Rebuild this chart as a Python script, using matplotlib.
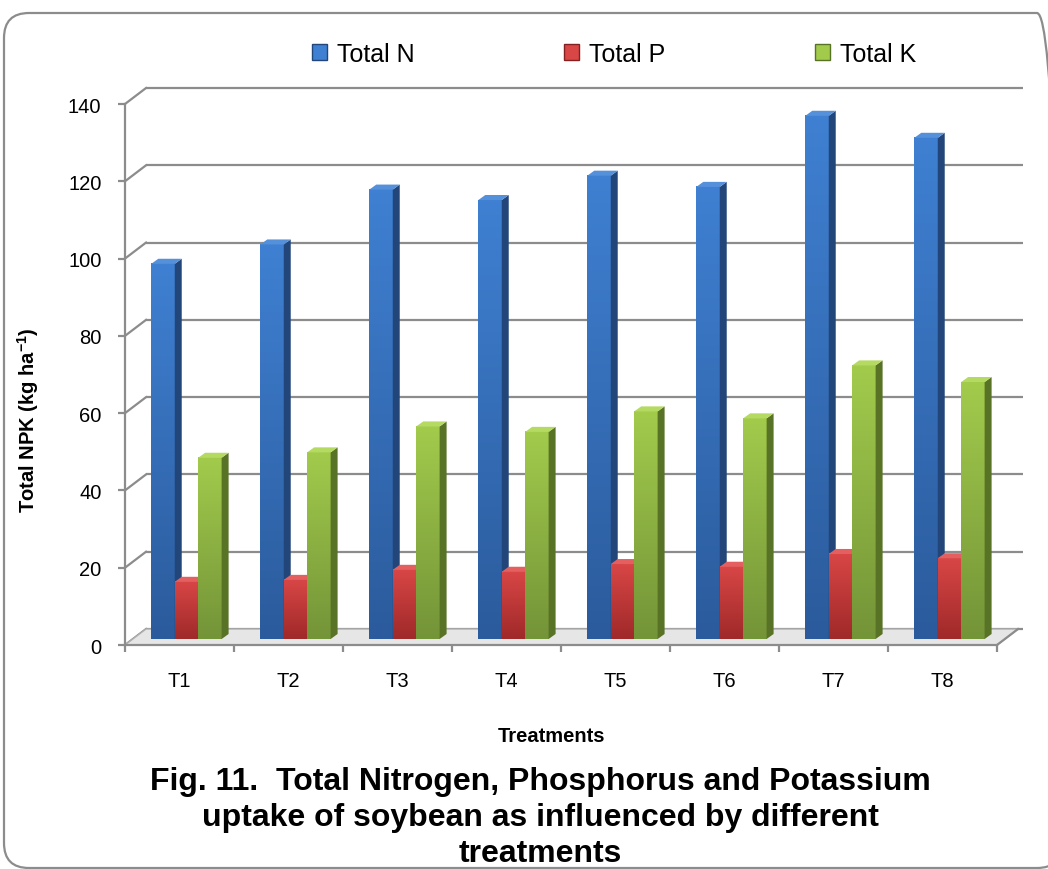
# Gráfico de barras "3D" (estilo Excel) - absorção total de NPK na soja
import numpy as np
import matplotlib
matplotlib.use('Agg')
import matplotlib.pyplot as plt
from matplotlib.patches import Polygon, FancyBboxPatch, Patch
from matplotlib.colors import to_rgb

plt.rcParams['font.family'] = ['Liberation Sans', 'DejaVu Sans']
plt.rcParams['mathtext.fontset'] = 'custom'
plt.rcParams['mathtext.rm'] = 'Liberation Sans'
plt.rcParams['mathtext.bf'] = 'Liberation Sans:bold'

# Dados
tratamentos = ['T1', 'T2', 'T3', 'T4', 'T5', 'T6', 'T7', 'T8']
total_n = [97.1, 102.1, 116.3, 113.6, 119.9, 117.0, 135.4, 129.7]
total_p = [14.8, 15.3, 17.9, 17.4, 19.4, 18.7, 22.0, 20.9]
total_k = [46.9, 48.3, 55.0, 53.6, 58.9, 57.1, 70.8, 66.5]
series = ['Total N', 'Total P', 'Total K']
yticks = [0, 20, 40, 60, 80, 100, 120, 140]

# cores: frente (topo), frente (base), lateral, tampa
cores = [
    ('#3F80D2', '#2B5B9C', '#22467A', '#5590DA'),
    ('#D84646', '#A02929', '#842020', '#E46060'),
    ('#A2CB4C', '#749438', '#587226', '#B5DA62'),
]
cinza = '#8C8C8C'

# parâmetros da perspectiva (em unidades dos eixos)
w = 0.215            # largura de cada barra
fx, fy = 0.064, 1.55  # deslocamento da face frontal das barras
sx, sy = 0.064, 1.3   # profundidade das barras
bx, by = 0.193, 4.14  # deslocamento da parede do fundo

fig = plt.figure(figsize=(10.48, 8.7), dpi=100)
ax = fig.add_axes([0.11927, 0.25747, 0.83206, 0.62184])

n = len(tratamentos)

# parede do fundo: linhas de grade e ligações diagonais
for v in yticks:
    ax.plot([bx, n + bx + 0.05], [v + by, v + by], color=cinza, lw=1.6,
            clip_on=False, zorder=1, solid_capstyle='butt')
    ax.plot([0, bx], [v, v + by], color=cinza, lw=1.6, clip_on=False, zorder=1)

# piso
piso = Polygon([(0, 0), (n, 0), (n + bx, by), (bx, by)], closed=True,
               facecolor='#E6E6E6', edgecolor='#B0B0B0', lw=1, zorder=2,
               clip_on=False)
ax.add_patch(piso)
ax.plot([n, n + bx], [0, by], color=cinza, lw=1.6, clip_on=False, zorder=2)


def barra3d(x, h, cor):
    topo, base, lado, tampa = cor
    x0, y0 = x + fx, fy
    g = np.linspace(0, 1, 64)[:, None, None]
    img = (1 - g) * np.array(to_rgb(topo)) + g * np.array(to_rgb(base))
    ax.imshow(img, extent=[x0, x0 + w, y0, y0 + h], aspect='auto',
              interpolation='bilinear', zorder=3, clip_on=False)
    ax.add_patch(Polygon([(x0 + w, y0), (x0 + w + sx, y0 + sy),
                          (x0 + w + sx, y0 + h + sy), (x0 + w, y0 + h)],
                         closed=True, facecolor=lado, edgecolor='none',
                         zorder=3, clip_on=False))
    ax.add_patch(Polygon([(x0, y0 + h), (x0 + w, y0 + h),
                          (x0 + w + sx, y0 + h + sy), (x0 + sx, y0 + h + sy)],
                         closed=True, facecolor=tampa, edgecolor='none',
                         zorder=3, clip_on=False))


valores = [total_n, total_p, total_k]
for i in range(n):
    for j, vals in enumerate(valores):
        barra3d(i + 0.5 - 1.5 * w + j * w, vals[i], cores[j])

ax.set_xlim(0, n)
ax.set_ylim(0, 140)

ax.set_yticks(yticks)
ax.set_xticks(range(n + 1))
ax.set_xticklabels([])
ax.set_xticks(np.arange(n) + 0.5, minor=True)
ax.set_xticklabels(tratamentos, minor=True)
ax.tick_params(axis='y', direction='out', length=5, width=1.6, color=cinza,
               labelsize=14.5, pad=12)
ax.tick_params(axis='x', which='major', direction='out', length=5, width=1.6,
               color=cinza)
ax.tick_params(axis='x', which='minor', length=0, labelsize=14.5, pad=19)

for lado in ['top', 'right']:
    ax.spines[lado].set_visible(False)
for lado in ['left', 'bottom']:
    ax.spines[lado].set_color(cinza)
    ax.spines[lado].set_linewidth(1.6)
    ax.spines[lado].set_zorder(4)

fig.text(0.0267, 0.517, r'Total NPK (kg ha$^{\mathbf{-1}}$)', rotation=90,
         ha='center', va='center', fontsize=14.5, fontweight='bold')
fig.text(0.526, 1 - 737 / 870, 'Treatments', ha='center', va='center',
         fontsize=14.5, fontweight='bold')

fig.text(0.516, 1 - 818 / 870,
         'Fig. 11.  Total Nitrogen, Phosphorus and Potassium\n'
         'uptake of soybean as influenced by different\ntreatments',
         ha='center', va='center', fontsize=23, fontweight='bold',
         linespacing=1.24)

# legenda
handles = [Patch(facecolor=c[0], edgecolor=c[2]) for c in cores]
fig.legend(handles, series, loc='center', bbox_to_anchor=(0.586, 0.937),
           ncol=3, frameon=False, fontsize=18, handlelength=0.6,
           handleheight=0.6, handletextpad=0.4, columnspacing=6.0)

# moldura arredondada (lado direito fica fora da figura)
moldura = FancyBboxPatch((0.04, 0.01), 10.58, 8.55,
                         boxstyle='round,pad=0,rounding_size=0.25',
                         transform=fig.dpi_scale_trans, facecolor='none',
                         edgecolor=cinza, lw=1.6, clip_on=False)
fig.patches.append(moldura)

fig.savefig('out.png', dpi=100)
